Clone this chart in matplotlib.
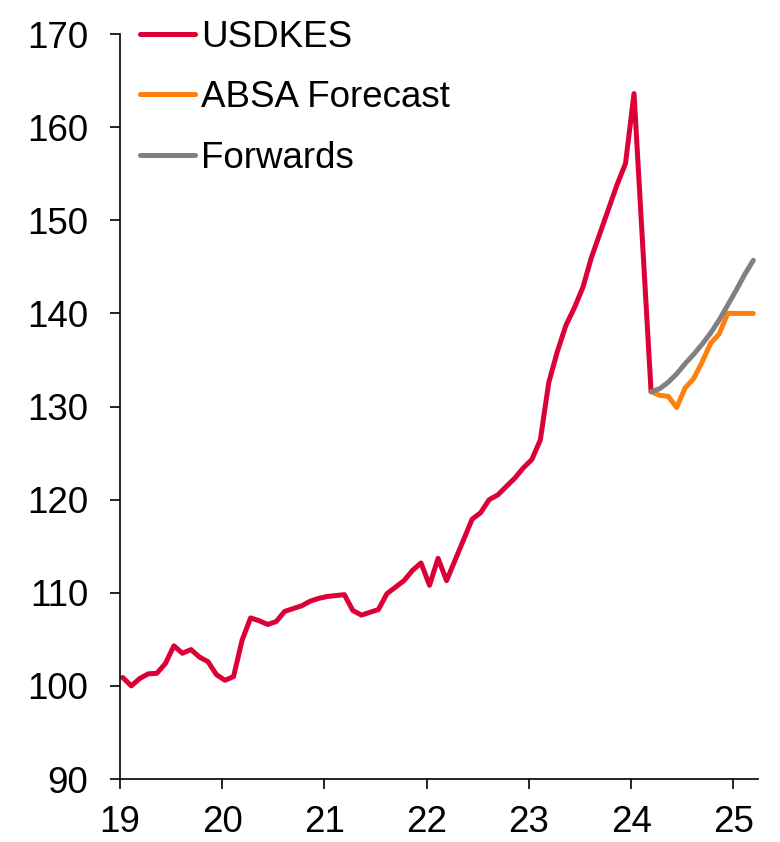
import numpy as np
import matplotlib
matplotlib.use("Agg")
import matplotlib.pyplot as plt

plt.rcParams['font.family'] = ['Liberation Sans', 'DejaVu Sans']

# monthly USDKES, Jan 2019 .. Mar 2024
usdkes = [100.9, 100.0, 100.8, 101.3, 101.35, 102.4, 104.3, 103.5, 103.9, 103.1, 102.6, 101.2,
          100.6, 101.0, 104.9, 107.3, 107.0, 106.6, 106.9, 108.0, 108.3, 108.6, 109.1, 109.4,
          109.6, 109.7, 109.8, 108.1, 107.6, 107.9, 108.2, 109.9, 110.6, 111.3, 112.4, 113.2,
          110.8, 113.7, 111.3, 113.5, 115.7, 117.9, 118.6, 120.0, 120.5, 121.4, 122.3, 123.4,
          124.3, 126.4, 132.6, 135.9, 138.7, 140.6, 142.8, 146.0, 148.6, 151.2, 153.8, 156.1,
          163.6, 147.6, 131.6]
# Mar 2024 .. Mar 2025
absa_forecast = [131.6, 131.2, 131.1, 129.9, 132.0, 133.0, 134.8, 136.8, 137.8, 140.0, 140.0, 140.0, 140.0]
forwards = [131.6, 131.9, 132.6, 133.5, 134.6, 135.6, 136.7, 137.9, 139.3, 140.9, 142.5, 144.2, 145.7]

x_ticks = [19, 20, 21, 22, 23, 24, 25]
y_ticks = [90, 100, 110, 120, 130, 140, 150, 160, 170]

# month index -> year axis (2-digit years)
n_hist = len(usdkes)
x_hist = 19 + (np.arange(n_hist) + 0.33) / 12
x_fc = 19 + (np.arange(n_hist - 1, n_hist - 1 + len(absa_forecast)) + 0.33) / 12

fig = plt.figure(figsize=(7.8, 8.42), dpi=100)
ax = fig.add_axes([0.1538, 0.0748, 0.8180, 0.8848])

lw = 3.6
ax.plot(x_hist, usdkes, color='#DC0037', linewidth=lw, label='USDKES', solid_capstyle='round')
ax.plot(x_fc, absa_forecast, color='#FF7F0E', linewidth=lw, label='ABSA Forecast', solid_capstyle='round')
ax.plot(x_fc, forwards, color='#808080', linewidth=lw, label='Forwards', solid_capstyle='round')

ax.set_xlim(19, 25.24)
ax.set_ylim(90, 170)
ax.set_xticks(x_ticks)
ax.set_xticklabels([str(t) for t in x_ticks])
ax.set_yticks(y_ticks)
ax.tick_params(axis='both', labelsize=26.5, width=1.2, length=7, direction='out')
ax.tick_params(axis='y', pad=16)
ax.tick_params(axis='x', pad=12)

for side in ['top', 'right']:
    ax.spines[side].set_visible(False)
for side in ['left', 'bottom']:
    ax.spines[side].set_linewidth(1.2)

ax.legend(loc='upper left', bbox_to_anchor=(-0.009, 1.054), frameon=False, fontsize=26.5,
          handlelength=1.5, handletextpad=0.15, labelspacing=0.7, borderaxespad=0.3)

fig.savefig('out.png', dpi=100)
